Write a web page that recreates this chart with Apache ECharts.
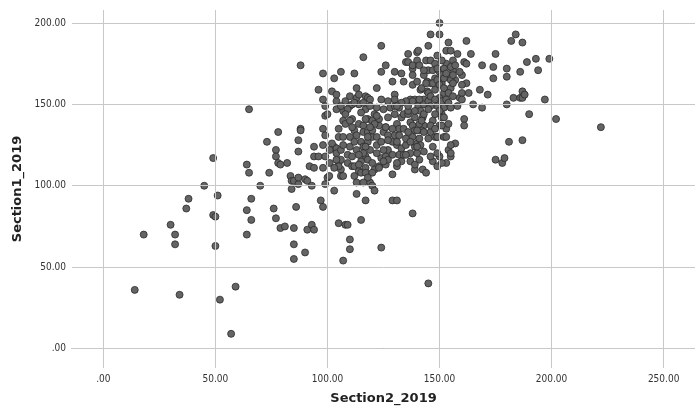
<!DOCTYPE html>
<html>
<head>
<meta charset="utf-8">
<script src="https://cdn.jsdelivr.net/npm/echarts@6/dist/echarts.min.js"></script>
<style>
html,body{margin:0;padding:0;background:#fff;}
#chart{width:695px;height:415px;}
</style>
</head>
<body>
<div id="chart"></div>
<script>
// Section2_2019 (x) and Section1_2019 (y)
var section2 = [
14,18,30,32,32,34,37,38,45,49,49,50,50,51,52,57,59,64,64,64,65,65,66,66,70,73,74,76,77,77,77,78,78,79,79,81,82,83.5,84,84,85,85,85,86,85,87,87,87,88,88,88,87,90,90,91,91,92,93,93,94,94,94,94,96,96,97,98,98,98,98,98,98,99,99,99,99,99,100,100,100.8,
103,103,101,102,103,104,104,104,104,105,105,105,105,106,106,106,106,107,107,107,107,107,108,108,109,109,109,110,110,110,110,110,111,111,111,111,112,112,112,112,113,113,113,113,113,114,114,114,115,115,115,116,116,116,116,117,117,117,117,117,117,118,118,118,118,119,119,119,120,120,120,121,121,121,122,122,122,122,123,123,124,124,124,124,124,125,126,126,126,126,127,127,128,129,129,129,129,130,130,130,130,131,131,131,131,132,132,133,133,133,134,134,134,135,135,136,136,137,137,137,138,138,138,138,138,138,139,139,139,139,140,140,140,140,140.5,140.5,141.5,141.5,141.5,142.5,142.5,143,143,143,144,144,144.5,144.5,145,145,145,145,146,146,146,147,147,147,148,148,148,149,149,149,150,150,150,150,150,150,151,151,152,152,152,153,153,153,153,154,154,154,155,155,155,156,156,157,157,158,158,159,160,160,160,161,161,161,162,162,164,165,168,169,169,171.5,174,174,175,175,178,179,180,180,180,181,182,183,184,186,186,187,187,187,187,188,189,190,193,194,197,199,202,222,
140,141,142,143,144,145,146,147,148,149,149,150,151,151,152,152,153,154,154,155,155,155,156,156,150,151,148,146,145,143,142,141,140,139,139,136,136,138,135,133,132,131,130,127,127,126,125,123,122,121,120,119,119,118,117,116,115,114,113,112,111,110,109,108,107,106,105,104,103,102,101,118,120,122,124,125,127,129,130,131,132,134,135,136,137,140,141,142,143,145,146,147,148,149,151,152,153,154,155,155,149,151,146,143,141,139,137,135,133,131,129,127,125,123,120,118,116,114,
104,106,108,110,112,114,115,116,117,
136,138,141,143,146,148,149,151,152,153,156,157,159,162,160,163
];
var section1 = [
36,70,76,70,64,33,86,92,100,117,82,81,63,94,30,9,38,70,85,113,108,147,92,79,100,127,108,86,122,118,80,133,114,74,113,75,114,106,103,98,74,64,55,87,103,101,121,128,135,134,174,105,104,59,103,73,112,76,100,73,111,124,118,159,118,91,87,111,125,135,153,169,118,101,131,143,149,144,105,106,
97,166,114,158,124,123,152,156,120,114,130,135,77,170,110,106,122,146,140,125,106,54,76,138,76,119,114,149,130,124,67,61,118,112,141,150,169,106,134,112,160,154,95,102,122,150,138,109,127,79,108,179,137,133,124,91,147,155,118,111,108,154,141,133,127,153,102,122,140,130,100,144,97,110,160,125,148,130,112,137,186,170,153,117,62,133,174,136,118,113,131,122,148,164,127,107,91,170,156,149,144,91,112,138,125,119,135,169,142,123,164,119,144,176,125,181,144,115,153,139,172,168,162,83,137,130,124,153,142,110,182,177,120,126,183,149,146,159,125,142,110,153,150,144,177,108,164,158,40,186,171,152,193,163,133,171,140,115,166,130,159,180,112,130,200,193,170,154,137,118,163,144,130,148,157,183,175,135,114,188,167,122,183,160,118,177,171,165,126,181,149,154,168,157,153,141,137,176,189,175,181,150,159,174,148,156,173,166,181,116,114,117,172,167,150,127,189,154,193,170,154,188,154,158,128,156,176,144,178,171,153,178,141,136,
164,153,160,168,163,157,155,163,153,165,149,162,168,152,166,160,153,151,157,165,173,148,163,155,146,142,144,149,147,137,134,129,124,134,146,146,149,152,152,151,148,149,153,152,142,136,147,141,143,138,134,149,136,130,124,120,115,119,131,127,136,140,147,144,130,116,112,116,111,126,122,116,114,120,127,122,128,135,131,127,131,135,129,133,127,134,138,140,133,129,137,124,135,130,137,142,130,138,125,120,120,114,118,121,116,113,120,119,115,114,119,116,115,111,108,105,102,113,
147,149,152,155,151,156,145,151,141,
176,174,174,171,177,175,172,177,172,169,168,174,170,163,162,157
];
var xTicks = [0, 50, 100, 150, 200, 250];
var yTicks = [0, 50, 100, 150, 200];

var points = section2.map(function (x, i) { return [x, section1[i]]; });
function fmt(v) { return v === 0 ? '.00' : Number(v).toFixed(2); }

var labelFont = "'Liberation Sans Narrow','DejaVu Sans Condensed',sans-serif";
var chart = echarts.init(document.getElementById('chart'), null, {renderer: 'canvas'});
chart.setOption({
  animation: false,
  backgroundColor: '#ffffff',
  grid: {left: 72, right: -2, top: 10, bottom: 47, containLabel: false},
  xAxis: {
    type: 'value', min: -14, max: 264,
    name: 'Section2_2019', nameLocation: 'middle', nameGap: 24,
    nameTextStyle: {fontFamily: 'DejaVu Sans', fontWeight: 'bold', fontSize: 13, color: '#222'},
    axisLine: {show: true, lineStyle: {color: '#7a7a7a', width: 1}},
    axisTick: {show: false},
    splitLine: {show: false},
    axisLabel: {customValues: xTicks, formatter: fmt, fontFamily: labelFont, fontSize: 10, color: '#333', margin: 6}
  },
  yAxis: {
    type: 'value', min: -12, max: 208,
    name: 'Section1_2019', nameLocation: 'middle', nameGap: 47,
    nameTextStyle: {fontFamily: 'DejaVu Sans', fontWeight: 'bold', fontSize: 13, color: '#222'},
    axisLine: {show: false},
    axisTick: {show: false},
    splitLine: {show: false},
    axisLabel: {customValues: yTicks, formatter: fmt, fontFamily: labelFont, fontSize: 10, color: '#333', margin: 6}
  },
  series: [
    {
      type: 'scatter', data: [], silent: true, z: 1,
      markLine: {
        silent: true, symbol: 'none', animation: false,
        label: {show: false},
        lineStyle: {color: '#c8c8c8', width: 1, type: 'solid'},
        data: xTicks.map(function (v) { return {xAxis: v}; }).concat(yTicks.map(function (v) { return {yAxis: v}; }))
      }
    },
    {
      type: 'scatter', z: 3,
      data: points,
      symbol: 'circle', symbolSize: 7,
      itemStyle: {color: '#646464', borderColor: '#2b2b2b', borderWidth: 0.8, opacity: 1}
    }
  ]
});
</script>
</body>
</html>
